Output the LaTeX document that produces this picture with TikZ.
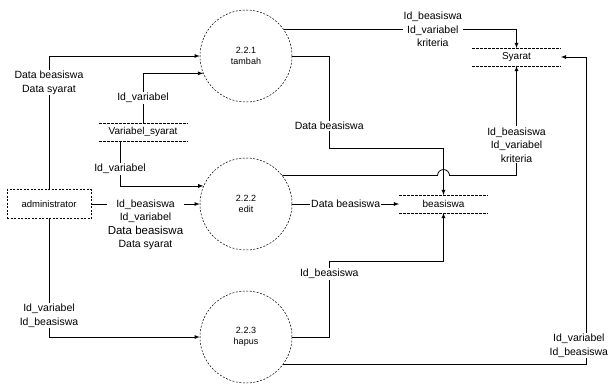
\documentclass[tikz,border=0pt]{standalone}
\usepackage{fontspec}
\setmainfont{Liberation Sans}
\usetikzlibrary{calc}

\begin{document}
\begin{tikzpicture}[
x=1pt, y=-1pt,
line width=0.8pt,
proc/.style={
  draw,
  line width=0.5pt,
  dash pattern=on 2pt off 1.5pt,
  circle,
  minimum size=92pt,
  inner sep=0pt,
  align=center,
  font=\fontsize{9}{11}\selectfont
  },
ext/.style={
  draw,
  line width=0.5pt,
  dash pattern=on 2pt off 1.5pt,
  minimum width=84pt,
  minimum height=29pt,
  font=\fontsize{9.5}{11}\selectfont
  },
storeline/.style={draw, line width=0.6pt, dash pattern=on 3pt off 1pt, -},
store/.style={
  minimum width=88pt,
  minimum height=17pt,
  inner sep=0pt,
  font=\fontsize{10}{12}\selectfont,
  append after command={(\tikzlastnode.north west) edge[storeline] (\tikzlastnode.north east)
    (\tikzlastnode.south west) edge[storeline] (\tikzlastnode.south east)}
  },
flow/.style={draw, -latex},
lbl/.style={fill=white, inner sep=1pt, align=center, font=\fontsize{10.5}{13.5}\selectfont}
]
\useasboundingbox (0,0) rectangle (610,383);
% processes
\node[proc] (tambah) at (246,56) {2.2.1\\tambah};
\node[proc] (edit) at (246,204) {2.2.2\\edit};
\node[proc] (hapus) at (246,337) {2.2.3\\hapus};
% entity and stores
\node[ext] (admin) at (49,204) {administrator};
\node[store] (varsy) at (143,132) {Variabel\_syarat};
\node[store] (syarat) at (516.5,57) {Syarat};
\node[store] (beasiswa) at (443.5,204) {beasiswa};
% flows
\path[flow] (admin.north) |- node[lbl,pos=0.4] {Data beasiswa\\Data syarat} (tambah.west);
\path[flow] (varsy.north) |- node[lbl,pos=0.25] {Id\_variabel} (tambah.202);
\path[flow] ([xshift=-23pt]varsy.south) |- node[lbl,pos=0.31] {Id\_variabel} (edit.157);
\path[flow] (admin.east) -- node[lbl,below=-6pt] {Id\_beasiswa\\Id\_variabel\\{\fontsize{11.5}{13.5}\selectfont Data beasiswa}\\Data syarat} (edit.west);
\path[flow] (admin.south) |- node[lbl,pos=0.41] {Id\_variabel\\Id\_beasiswa} (hapus.west);
\path[flow] (tambah.35) -| node[lbl,pos=0.32] {Id\_beasiswa\\Id\_variabel\\kriteria} (syarat.north);
\path[flow] (tambah.east) -- ++(37,0) |- node[lbl,pos=0.38] {Data beasiswa} ($(beasiswa.north)+(0,-47)$) -- (beasiswa.north);
\path[flow] (edit.38) -- ($(beasiswa.north |- edit.38)+(-6,0)$) arc[start angle=180,end angle=0,radius=6pt]
  -| node[lbl,pos=0.64] {Id\_beasiswa\\Id\_variabel\\kriteria} (syarat.south);
\path[flow] (edit.east) -- node[lbl] {Data beasiswa} (beasiswa.west);
\path[flow] (hapus.east) -- ++(37,0) |- node[lbl,pos=0.415] {Id\_beasiswa} ($(beasiswa.south)+(0,48)$) -- (beasiswa.south);
\path[flow] (hapus.324) -| node[lbl,pos=0.53,xshift=-7pt] {Id\_variabel\\Id\_beasiswa} ($(syarat.east)+(25,0)$) -- (syarat.east);
\end{tikzpicture}
\end{document}
